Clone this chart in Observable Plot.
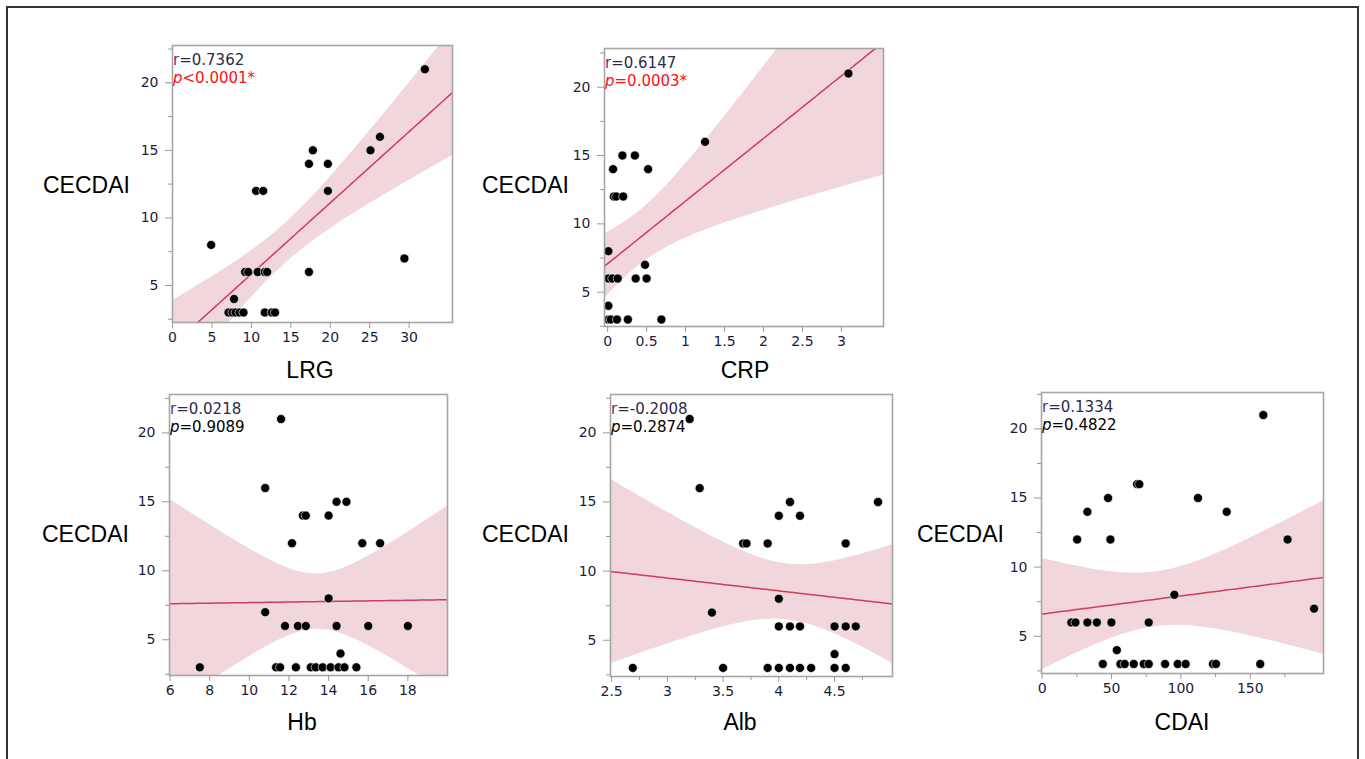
<!DOCTYPE html>
<html>
<head>
<meta charset="utf-8">
<script src="https://cdn.jsdelivr.net/npm/d3@7"></script>
<script src="https://cdn.jsdelivr.net/npm/@observablehq/plot@0.6"></script>
<style>
  html, body { margin: 0; padding: 0; background: #fff; }
  #root { position: relative; width: 1365px; height: 759px; overflow: hidden; background: #fff; }
  #border { position: absolute; left: 6px; top: 6px; width: 1353px; height: 800px; border: 2px solid #333; box-sizing: border-box; }
  .panel { position: absolute; }
  #overlay { position: absolute; left: 0; top: 0; pointer-events: none; }
</style>
</head>
<body>
<div id="root"><div id="border"></div></div>
<script>
// ---------- data ----------
const yLabel = "CECDAI";
const yTicks = [5, 10, 15, 20];
const yMinorTicks = [2.5, 7.5, 12.5, 17.5, 22.5];

const lrgX = [32.0, 26.3, 25.1, 17.8, 17.3, 19.7, 19.7, 10.6, 11.5, 4.9, 29.4, 9.2, 9.6, 10.8, 11.7, 12.0, 17.3, 7.8, 7.1, 7.6, 8.0, 8.5, 9.0, 11.7, 12.6, 13.0];
const lrgY = [21, 16, 15, 15, 14, 14, 12, 12, 12, 8, 7, 6, 6, 6, 6, 6, 6, 4, 3, 3, 3, 3, 3, 3, 3, 3];
const lrgTicks = [0, 5, 10, 15, 20, 25, 30];

const crpX = [3.09, 1.25, 0.19, 0.35, 0.07, 0.52, 0.08, 0.11, 0.2, 0.01, 0.48, 0.01, 0.06, 0.13, 0.36, 0.5, 0.01, 0.01, 0.04, 0.12, 0.26, 0.69];
const crpY = [21, 16, 15, 15, 14, 14, 12, 12, 12, 8, 7, 6, 6, 6, 6, 6, 4, 3, 3, 3, 3, 3];
const crpTicks = [0, 0.5, 1, 1.5, 2, 2.5, 3];

const hbX = [11.6, 10.8, 14.4, 14.9, 12.7, 12.85, 14.0, 12.15, 15.7, 16.6, 14.0, 10.8, 11.8, 12.45, 12.85, 14.4, 16.0, 18.0, 14.6, 7.5, 11.35, 11.55, 12.35, 13.1, 13.35, 13.7, 14.1, 14.5, 14.8, 15.4];
const hbY = [21, 16, 15, 15, 14, 14, 14, 12, 12, 12, 8, 7, 6, 6, 6, 6, 6, 6, 4, 3, 3, 3, 3, 3, 3, 3, 3, 3, 3, 3];
const hbTicks = [6, 8, 10, 12, 14, 16, 18];

const albX = [3.2, 3.29, 4.1, 4.1, 4.89, 4.89, 4.0, 4.19, 3.68, 3.71, 3.9, 4.6, 4.0, 3.4, 4.0, 4.1, 4.19, 4.5, 4.6, 4.69, 4.5, 2.69, 3.5, 3.9, 4.0, 4.1, 4.19, 4.29, 4.5, 4.6];
const albY = [21, 16, 15, 15, 15, 15, 14, 14, 12, 12, 12, 12, 8, 7, 6, 6, 6, 6, 6, 6, 4, 3, 3, 3, 3, 3, 3, 3, 3, 3];
const albTicks = [2.5, 3, 3.5, 4, 4.5];
const albMinor = [2.75, 3.25, 3.75, 4.25, 4.75];

const cdaiX = [159.4, 68.4, 70, 47.5, 112.3, 32.6, 133, 25.2, 49.2, 176.9, 95.3, 196, 21, 24, 32.6, 39.4, 49.9, 76.8, 53.8, 43.7, 56.4, 59.5, 66, 73.2, 76.8, 88.6, 97.7, 103.4, 123.1, 125.3, 157.2];
const cdaiY = [21, 16, 16, 15, 15, 14, 14, 12, 12, 12, 8, 7, 6, 6, 6, 6, 6, 6, 4, 3, 3, 3, 3, 3, 3, 3, 3, 3, 3, 3, 3];
const cdaiTicks = [0, 50, 100, 150];
const cdaiMinor = [25, 75, 125, 175];

const panelNames = ["LRG", "CRP", "Hb", "Alb", "CDAI"];
const rTexts = ["r=0.7362", "r=0.6147", "r=0.0218", "r=-0.2008", "r=0.1334"];
const pTexts = ["<0.0001*", "=0.0003*", "=0.9089", "=0.2874", "=0.4822"];
const pSignificant = [true, true, false, false, false];

// ---------- layout ----------
const panels = [
  {name: "LRG", xs: lrgX, ys: lrgY, xDomain: [0, 35.5], yDomain: [2.26, 22.76], box: [172, 452, 45, 322], ticks: lrgTicks, minor: [], title: [310, 378], ylab: [43, 193]},
  {name: "CRP", xs: crpX, ys: crpY, xDomain: [-0.04, 3.54], yDomain: [2.49, 22.83], box: [604, 883, 48, 326], ticks: crpTicks, minor: [], title: [745, 378], ylab: [482, 193]},
  {name: "Hb", xs: hbX, ys: hbY, xDomain: [5.97, 20.0], yDomain: [2.41, 22.78], box: [169, 447, 394, 675], ticks: hbTicks, minor: [], title: [302, 730], ylab: [42, 542]},
  {name: "Alb", xs: albX, ys: albY, xDomain: [2.49, 5.02], yDomain: [2.38, 22.77], box: [610, 892, 394, 676], ticks: albTicks, minor: albMinor, title: [740, 730], ylab: [482, 542]},
  {name: "CDAI", xs: cdaiX, ys: cdaiY, xDomain: [-0.5, 202.8], yDomain: [2.31, 22.63], box: [1041, 1323, 392, 673], ticks: cdaiTicks, minor: cdaiMinor, title: [1182, 730], ylab: [917, 542]}
];

function tQuant(df) {
  const z = 1.959964;
  const g1 = (z ** 3 + z) / 4;
  const g2 = (5 * z ** 5 + 16 * z ** 3 + 3 * z) / 96;
  const g3 = (3 * z ** 7 + 19 * z ** 5 + 17 * z ** 3 - 15 * z) / 384;
  return z + g1 / df + g2 / df ** 2 + g3 / df ** 3;
}

function fitBand(xs, ys, domain) {
  const n = xs.length;
  const mx = d3.mean(xs), my = d3.mean(ys);
  let sxx = 0, sxy = 0;
  for (let i = 0; i < n; i++) { sxx += (xs[i] - mx) ** 2; sxy += (xs[i] - mx) * (ys[i] - my); }
  const b = sxy / sxx, a = my - b * mx;
  let sse = 0;
  for (let i = 0; i < n; i++) sse += (ys[i] - a - b * xs[i]) ** 2;
  const s = Math.sqrt(sse / (n - 2));
  const t = tQuant(n - 2);
  const [x0, x1] = domain;
  return d3.range(81).map(i => {
    const x = x0 + (x1 - x0) * i / 80;
    const fit = a + b * x;
    const se = s * Math.sqrt(1 / n + (x - mx) ** 2 / sxx);
    return {x, fit, lo: fit - t * se, hi: fit + t * se};
  });
}

const root = document.getElementById("root");
const mL = 46, mR = 8, mT = 8, mB = 32;
const inkColor = "#1c1c3c";
const fmt = d => String(d);

panels.forEach(p => {
  const [l, r, t, b] = p.box;
  const pts = p.xs.map((x, i) => ({x, y: p.ys[i]}));
  const band = fitBand(p.xs, p.ys, p.xDomain);
  const yMinor = yMinorTicks.filter(v => v > p.yDomain[0] && v < p.yDomain[1]);
  const chart = Plot.plot({
    width: (r - l) + mL + mR,
    height: (b - t) + mT + mB,
    marginLeft: mL, marginRight: mR, marginTop: mT, marginBottom: mB,
    x: {domain: p.xDomain},
    y: {domain: p.yDomain},
    style: {background: "transparent", fontFamily: "'DejaVu Sans', sans-serif", fontSize: "14px", color: inkColor, overflow: "visible"},
    marks: [
      Plot.areaY(band, {x: "x", y1: "lo", y2: "hi", fill: "#f1d6db", clip: true}),
      Plot.line(band, {x: "x", y: "fit", stroke: "#d23c58", strokeWidth: 1.5, clip: true}),
      Plot.dot(pts, {x: "x", y: "y", r: 4.5, fill: "#000", stroke: "#fff", strokeWidth: 0.6}),
      Plot.frame({stroke: "#a6a6a6", strokeWidth: 1.6}),
      Plot.axisX({ticks: p.ticks, tickFormat: fmt, tickSize: 6, tickPadding: 4, label: null, stroke: "#9a9a9a", fill: inkColor}),
      ...(p.minor.length ? [Plot.axisX({ticks: p.minor, tickFormat: () => "", tickSize: 4, label: null, stroke: "#9a9a9a"})] : []),
      Plot.axisY({ticks: yTicks, tickFormat: fmt, tickSize: 7, tickPadding: 7, label: null, stroke: "#9a9a9a", fill: inkColor}),
      Plot.axisY({ticks: yMinor, tickFormat: () => "", tickSize: 4, label: null, stroke: "#9a9a9a"})
    ]
  });
  chart.classList.add("panel");
  chart.style.left = (l - mL) + "px";
  chart.style.top = (t - mT) + "px";
  root.appendChild(chart);
});

// ---------- text overlay ----------
const svg = d3.select(root).append("svg").attr("id", "overlay").attr("width", 1365).attr("height", 759);
panels.forEach((p, i) => {
  const [l, r, t, b] = p.box;
  svg.append("text").attr("x", p.ylab[0]).attr("y", p.ylab[1])
    .attr("font-family", "'Liberation Sans', Arial, sans-serif").attr("font-size", 23).attr("fill", "#000")
    .text(yLabel);
  svg.append("text").attr("x", p.title[0]).attr("y", p.title[1]).attr("text-anchor", "middle")
    .attr("font-family", "'Liberation Sans', Arial, sans-serif").attr("font-size", 23).attr("fill", "#000")
    .text(panelNames[i]);
  const rt = svg.append("text").attr("x", l + 1).attr("y", t + 20)
    .attr("font-family", "'DejaVu Sans', sans-serif").attr("font-size", 15).attr("fill", "#2b2b48");
  rt.append("tspan").attr("fill", "#6a2d8a").text(rTexts[i].slice(0, 1));
  rt.append("tspan").text(rTexts[i].slice(1));
  const pc = pSignificant[i] ? "#ff1010" : "#000";
  const pt = svg.append("text").attr("x", l + 1).attr("y", t + 38)
    .attr("font-family", "'DejaVu Sans', sans-serif").attr("font-size", 15).attr("fill", pc);
  pt.append("tspan").attr("font-style", "italic").text("p");
  pt.append("tspan").text(pTexts[i]);
});
</script>
</body>
</html>
